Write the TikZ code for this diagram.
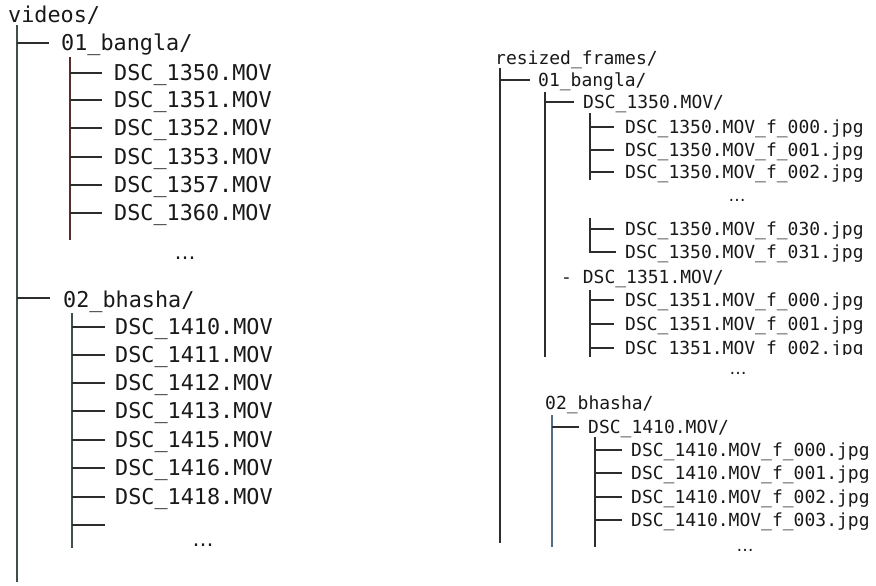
\documentclass[tikz,border=0pt]{standalone}
\usepackage{fontspec}
\newfontfamily\monof{DejaVu Sans Mono}
\newfontfamily\dotsf{DejaVu Sans}
\newcommand\bigmono{\monof\fontsize{21.8}{24}\selectfont}
\newcommand\smallmono{\monof\fontsize{18}{20}\selectfont}
\definecolor{linecol}{RGB}{45,45,45}
\definecolor{trunkcol}{RGB}{65,80,70}
\definecolor{browncol}{RGB}{85,45,45}
\definecolor{bluecol}{RGB}{80,110,135}
\definecolor{txtcol}{RGB}{25,25,25}
\tikzset{
  lft/.style={anchor=west, inner sep=0pt, font=\bigmono, text=txtcol, text height=15.9pt, text depth=0pt},
  rgt/.style={anchor=west, inner sep=0pt, font=\smallmono, text=txtcol, text height=13.1pt, text depth=0pt},
  dotsL/.style={anchor=base, inner sep=0pt, font=\dotsf\fontsize{21}{24}\selectfont, text=txtcol},
  dotsR/.style={anchor=base, inner sep=0pt, font=\dotsf\fontsize{17}{20}\selectfont, text=txtcol},
  ln/.style={draw=linecol, line width=1.3pt},
}
\begin{document}
\begin{tikzpicture}[x=1pt,y=-1pt]
\useasboundingbox (0,0) rectangle (876,586);
% ---------------- left tree ----------------
\node[lft] (videos) at (8,15) {videos/};
\coordinate (L0t) at (17,25);
\coordinate (L0b) at (17,582);
\draw[ln, draw=trunkcol] (L0t) -- (L0b);

\node[lft] (bangla) at (61,43) {01\_bangla/};
\draw[ln] (L0t |- bangla.west) -- ([xshift=-12pt]bangla.west);
\coordinate (L1t) at (70,57);
\coordinate (L1b) at (70,240);
\draw[ln, draw=browncol] (L1t) -- (L1b);
\foreach \n/\y in {1350/73,1351/100,1352/128,1353/157,1357/185,1360/213}{
  \node[lft] (v\n) at (114,\y) {DSC\_\n.MOV};
  \draw[ln] (L1t |- v\n.west) -- ([xshift=-12pt]v\n.west);
}
\node[dotsL] (dotsA) at (185,259) {…};

\node[lft] (bhasha) at (63,300) {02\_bhasha/};
\draw[ln] ([yshift=2pt]L0t |- bhasha.west) -- ([xshift=-13pt,yshift=2pt]bhasha.west);
\coordinate (L2t) at (72,313);
\coordinate (L2b) at (72,548);
\draw[ln, draw=trunkcol] (L2t) -- (L2b);
\foreach \n/\y in {1410/327,1411/355,1412/383,1413/411,1415/440,1416/468,1418/497}{
  \node[lft] (v\n) at (115,\y) {DSC\_\n.MOV};
  \draw[ln] (L2t |- v\n.west) -- ([xshift=-10pt]v\n.west);
}
\coordinate (blank) at (105,525);
\draw[ln] (L2t |- blank) -- (blank);
\node[dotsL] (dotsB) at (203,546) {…};

% ---------------- right tree ----------------
\node[rgt] (resized) at (495,58) {resized\_frames/};
\coordinate (R0t) at (500,68);
\coordinate (R0b) at (500,543);
\draw[ln] (R0t) -- (R0b);

\node[rgt] (rbangla) at (538,80) {01\_bangla/};
\draw[ln] (R0t |- rbangla.west) -- ([xshift=-8pt]rbangla.west);
\coordinate (R1t) at (545,92);
\coordinate (R1b) at (545,357);
\draw[ln] (R1t) -- (R1b);

\node[rgt] (d1350) at (583,102) {DSC\_1350.MOV/};
\draw[ln] (R1t |- d1350.west) -- ([xshift=-9pt]d1350.west);
\coordinate (R2t) at (590,113);
\coordinate (R2b) at (590,180);
\draw[ln] (R2t) -- (R2b);
\foreach \f/\y in {000/127,001/150,002/172}{
  \node[rgt] (a\f) at (625,\y) {DSC\_1350.MOV\_f\_\f.jpg};
  \draw[ln] (R2t |- a\f.west) -- ([xshift=-11pt]a\f.west);
}
\node[dotsR] (dotsC) at (737,201) {…};
\coordinate (R3t) at (590,218);
\node[rgt] (a030) at (625,229) {DSC\_1350.MOV\_f\_030.jpg};
\node[rgt] (a031) at (625,252) {DSC\_1350.MOV\_f\_031.jpg};
\draw[ln] (R3t) -- (R3t |- a031.west) -- ([xshift=-9pt]a031.west);
\draw[ln] (R3t |- a030.west) -- ([xshift=-11pt]a030.west);

\node[rgt] (d1351) at (561,277) {- DSC\_1351.MOV/};
\coordinate (R4t) at (590,290);
\coordinate (R4b) at (590,357);
\draw[ln] (R4t) -- (R4b);
\node[rgt] (b000) at (625,300) {DSC\_1351.MOV\_f\_000.jpg};
\node[rgt] (b001) at (625,324) {DSC\_1351.MOV\_f\_001.jpg};
\draw[ln] (R4t |- b000.west) -- ([xshift=-11pt]b000.west);
\draw[ln] (R4t |- b001.west) -- ([xshift=-11pt]b001.west);
\begin{scope}
  \clip (560,330) rectangle (876,354.5);
  \node[rgt] (b002) at (625,348) {DSC\_1351.MOV\_f\_002.jpg};
\end{scope}
\draw[ln] (R4t |- b002.west) -- ([xshift=-11pt]b002.west);
\node[dotsR] (dotsD) at (738,374) {…};

\node[rgt] (rbhasha) at (545,403) {02\_bhasha/};
\coordinate (R5t) at (552,415);
\coordinate (R5b) at (552,547);
\draw[ln, draw=bluecol] (R5t) -- (R5b);
\node[rgt] (d1410) at (588,427) {DSC\_1410.MOV/};
\draw[ln] (R5t |- d1410.west) -- ([xshift=-9pt]d1410.west);
\coordinate (R6t) at (595,437);
\coordinate (R6b) at (595,547);
\draw[ln] (R6t) -- (R6b);
\foreach \f/\y in {000/450,001/473,002/497,003/520}{
  \node[rgt] (c\f) at (631,\y) {DSC\_1410.MOV\_f\_\f.jpg};
  \draw[ln] (R6t |- c\f.west) -- ([xshift=-9pt]c\f.west);
}
\node[dotsR] (dotsE) at (745,551) {…};
\end{tikzpicture}
\end{document}
